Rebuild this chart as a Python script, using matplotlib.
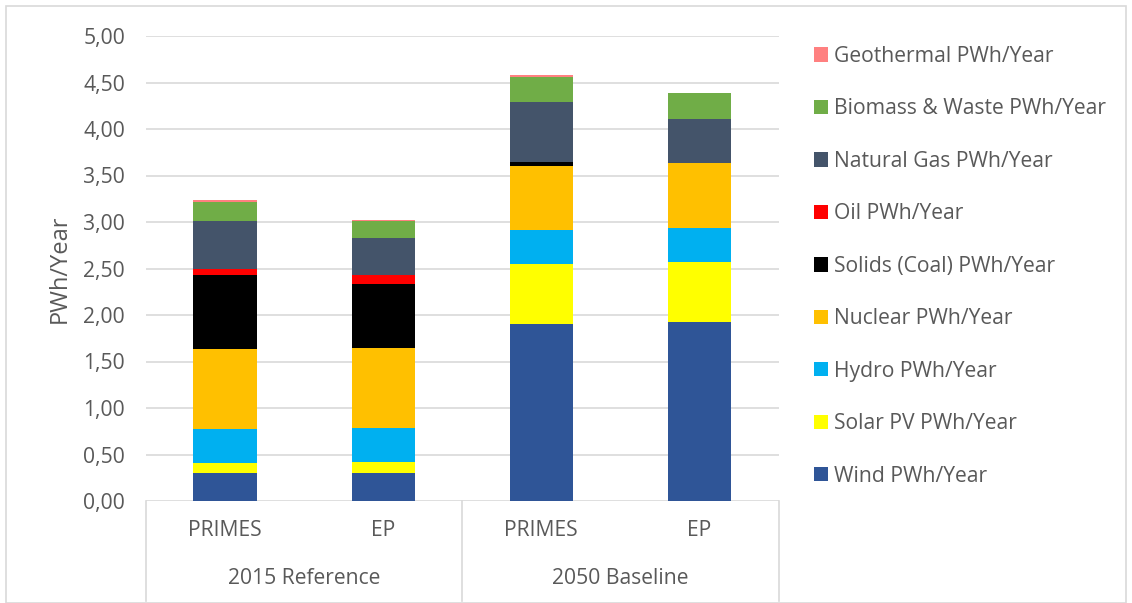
import matplotlib
matplotlib.use("Agg")
import matplotlib.pyplot as plt
import numpy as np
from matplotlib.patches import Rectangle
from matplotlib.lines import Line2D

plt.rcParams['font.family'] = ['Open Sans', 'DejaVu Sans']

# Scenario columns and their grouping
categories = ["PRIMES", "EP", "PRIMES", "EP"]
groups = ["2015 Reference", "2050 Baseline"]

# Generation by source, PWh/Year
series_names = ["Wind PWh/Year", "Solar PV PWh/Year", "Hydro PWh/Year",
                "Nuclear PWh/Year", "Solids (Coal) PWh/Year", "Oil PWh/Year",
                "Natural Gas PWh/Year", "Biomass & Waste PWh/Year",
                "Geothermal PWh/Year"]
wind = [0.30, 0.30, 1.90, 1.92]
solar = [0.11, 0.115, 0.645, 0.645]
hydro = [0.365, 0.365, 0.37, 0.375]
nuclear = [0.86, 0.86, 0.69, 0.69]
coal = [0.79, 0.69, 0.04, 0.0]
oil = [0.065, 0.10, 0.005, 0.0]
gas = [0.52, 0.395, 0.64, 0.48]
biomass = [0.21, 0.19, 0.27, 0.28]
geothermal = [0.015, 0.01, 0.018, 0.0]

colors = ["#2F5597", "#FFFF00", "#00B0F0", "#FFC000", "#000000",
          "#FF0000", "#44546A", "#70AD47", "#FF8080"]

series = [wind, solar, hydro, nuclear, coal, oil, gas, biomass, geothermal]

TEXT = "#595959"
FS = 15.2

W, H = 1132, 603
fig = plt.figure(figsize=(W / 100, H / 100), dpi=100)
ax = fig.add_axes([146 / W, 1 - 501 / H, (778.5 - 146) / W, (501 - 36) / H])

x = np.arange(len(categories))
bottom = np.zeros(len(categories))
handles = []
for name, vals, col in zip(series_names, series, colors):
    vals = np.array(vals)
    b = ax.bar(x, vals, bottom=bottom, width=0.4, color=col, label=name,
               linewidth=0, zorder=3)
    handles.append(b)
    bottom += vals

ax.set_xlim(-0.5, len(categories) - 0.5)
ax.set_ylim(0, 5)
yt = np.arange(0, 5.01, 0.5)
ax.set_yticks(yt)
ax.set_yticklabels([f"{v:.2f}".replace(".", ",") for v in yt])
ax.tick_params(axis='y', length=0, pad=15, labelsize=FS, labelcolor=TEXT)
ax.set_xticks([])
ax.grid(axis='y', color="#D9D9D9", linewidth=1.2, zorder=0)
for s in ax.spines.values():
    s.set_visible(False)
ax.set_ylabel("PWh/Year", fontsize=17, color=TEXT, labelpad=8)

# Two-level category axis below the plot
tr = ax.get_xaxis_transform()
ph = 501 - 36
for xi, lab in zip(x, categories):
    ax.text(xi, -30 / ph, lab, transform=tr, ha='center', va='center',
            fontsize=FS, color=TEXT)
for gi, g in enumerate(groups):
    ax.text(gi * 2 + 0.5, -77 / ph, g, transform=tr, ha='center',
            va='center', fontsize=FS, color=TEXT)
for xb in [-0.5, 1.5, 3.5]:
    ax.add_line(Line2D([xb, xb], [0, -100 / ph], transform=tr,
                       color="#D9D9D9", linewidth=1.2, clip_on=False))

# Legend, top entry first
leg = fig.legend(handles[::-1], series_names[::-1], loc='upper left',
                 bbox_to_anchor=(814 / W, 1 - 46 / H), frameon=False,
                 fontsize=FS, labelspacing=1.49, handlelength=0.66,
                 handleheight=0.66, handletextpad=0.28, labelcolor=TEXT,
                 borderpad=0, borderaxespad=0)

# Outer chart frame
fig.patches.append(Rectangle((6 / W, 0), 1 - 12 / W, 1 - 6 / H,
                             transform=fig.transFigure, fill=False,
                             edgecolor="#D9D9D9", linewidth=1.2))

fig.savefig("out.png", dpi=100)
